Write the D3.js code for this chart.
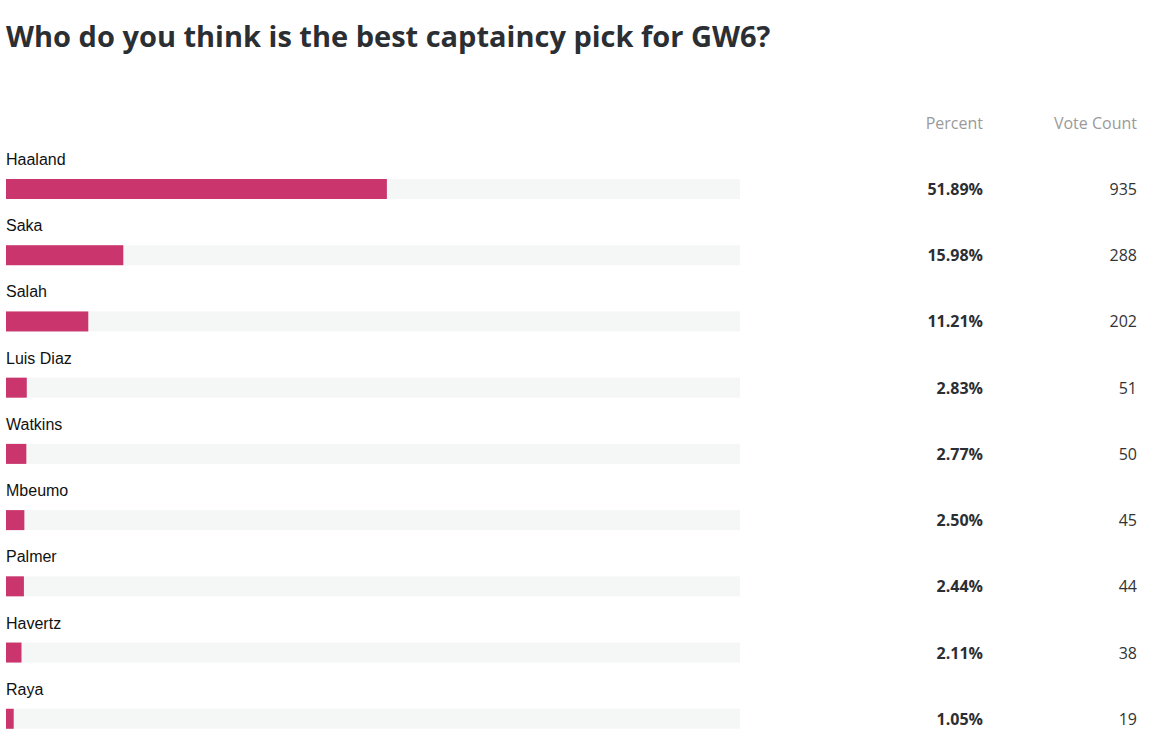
<!DOCTYPE html>
<html>
<head>
<meta charset="utf-8">
<script src="https://d3js.org/d3.v7.min.js"></script>
<style>
  body{margin:0;background:#fff;}
  .title{font-family:"Open Sans","Noto Sans",sans-serif;font-weight:700;font-size:29px;fill:#2b2f33;}
  .head{font-family:"Open Sans","Noto Sans",sans-serif;font-size:16px;fill:#9a9a9a;}
  .name{font-family:"Liberation Sans",Arial,sans-serif;font-size:16px;fill:#111;}
  .pct{font-family:"Open Sans","Noto Sans",sans-serif;font-size:16px;font-weight:700;fill:#2b2f33;}
  .cnt{font-family:"Open Sans","Noto Sans",sans-serif;font-size:16px;fill:#333;}
</style>
</head>
<body>
<svg id="chart" width="1156" height="737"></svg>
<script>
var players = ['Haaland','Saka','Salah','Luis Diaz','Watkins','Mbeumo','Palmer','Havertz','Raya']
  , percents = [51.89, 15.98, 11.21, 2.83, 2.77, 2.50, 2.44, 2.11, 1.05]
  , votes = [935, 288, 202, 51, 50, 45, 44, 38, 19];

var svg = d3.select('#chart')
  , x = d3.scaleLinear().domain([0, 100]).range([6, 740])
  , y = d3.scaleBand().domain(players).range([146, 742]).paddingInner(0);

svg.append('text').attr('class','title').attr('x',6).attr('y',47)
   .text('Who do you think is the best captaincy pick for GW6?');
svg.append('text').attr('class','head').attr('x',983).attr('y',129).attr('text-anchor','end').text('Percent');
svg.append('text').attr('class','head').attr('x',1137).attr('y',129).attr('text-anchor','end').text('Vote Count');

var row = svg.selectAll('g.row').data(players).enter().append('g')
   .attr('class','row').attr('transform', function(d){return 'translate(0,' + y(d) + ')';});

row.append('text').attr('class','name').attr('x',6).attr('y',19).text(function(d){return d;});
row.append('rect').attr('x',x(0)).attr('y',33).attr('height',20)
   .attr('width',x(100)-x(0)).attr('fill','#f5f6f6');
row.append('rect').attr('x',x(0)).attr('y',33).attr('height',20)
   .attr('width',function(d,i){return x(percents[i])-x(0);}).attr('fill','#c9356c');
row.append('text').attr('class','pct').attr('x',983).attr('y',49).attr('text-anchor','end')
   .text(function(d,i){return percents[i].toFixed(2) + '%';});
row.append('text').attr('class','cnt').attr('x',1137).attr('y',49).attr('text-anchor','end')
   .text(function(d,i){return votes[i];});
</script>
</body>
</html>
